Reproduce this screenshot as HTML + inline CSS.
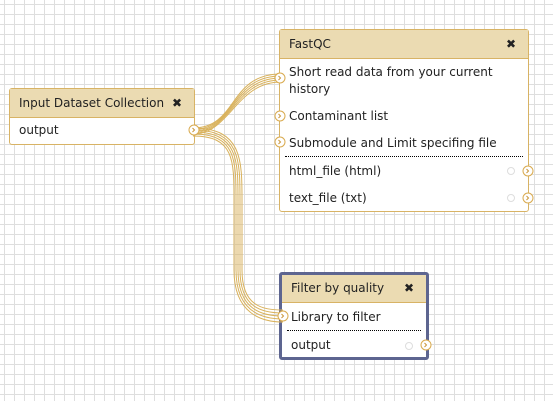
<!DOCTYPE html>
<html><head><style>
body{margin:0;width:553px;height:401px;overflow:hidden;background:#fff;
background-image:linear-gradient(#dedede 1px,transparent 1px),linear-gradient(90deg,#dedede 1px,transparent 1px);
background-size:10px 10px;background-position:4px 4px;font-family:"DejaVu Sans","Liberation Sans",sans-serif;font-size:12px;color:#222;position:relative}
.node{position:absolute;background:#fff;border:1px solid #d8b365;border-radius:3px;box-sizing:border-box}
.hd{background:#ebdbb2;border-bottom:1px solid #d8b365;height:28px;line-height:28px;padding-left:9px;position:relative}
.x{position:absolute;right:12px;top:0;font-weight:bold;font-size:12px}
.row{position:absolute;left:9px;white-space:nowrap}
.dot{position:absolute;left:5px;right:5px;border-top:1px dotted #000}
svg{position:absolute;left:0;top:0}
</style></head><body>
<div class="node" style="left:9px;top:88px;width:186px;height:57px">
 <div class="hd">Input Dataset Collection<span class="x" style="right:12px">✖</span></div>
 <div class="row" style="top:34px">output</div>
</div>
<div class="node" style="left:279px;top:29px;width:250px;height:183px">
 <div class="hd">FastQC<span class="x">✖</span></div>
 <div class="row" style="top:34px;line-height:17px">Short read data from your current<br>history</div>
 <div class="row" style="top:79px">Contaminant list</div>
 <div class="row" style="top:106px">Submodule and Limit specifing file</div>
 <div class="dot" style="top:126px"></div>
 <div class="row" style="top:134px">html_file (html)</div>
 <div class="row" style="top:161px">text_file (txt)</div>
</div>
<div class="node" style="left:279px;top:272px;width:150px;height:88px;border:3px solid #5d6590">
 <div class="hd" style="height:27px;line-height:27px">Filter by quality<span class="x">✖</span></div>
 <div class="row" style="top:35px">Library to filter</div>
 <div class="dot" style="top:55px"></div>
 <div class="row" style="top:63px">output</div>
</div>
<svg width="553" height="401">
<g fill="none" stroke="#d9b25c" stroke-width="1">
 <path d="M193,128 C238,128 228,74 281,74"/><path d="M193,129.5 C236,129.5 230,76 281,76"/><path d="M193,131 C234,131 232,78 281,78"/><path d="M193,132.5 C232,132.5 234,80 281,80"/><path d="M193,134 C230,134 236,82 281,82"/>
 <path d="M193,128 C242,128 242,160 242,200 L242,270 C242,306 262,310 283,310"/>
 <path d="M193,130 C240,130 240,160 240,200 L240,270 C240,308 262,313 283,313"/>
 <path d="M193,132 C238,132 238,160 238,200 L238,270 C238,310 262,316 283,316"/>
 <path d="M193,134 C236,134 236,160 236,200 L236,270 C236,312 262,319 283,319"/>
 <path d="M193,136 C234,136 234,160 234,200 L234,270 C234,314 262,322 283,322"/>
</g>
<g fill="#fff" stroke="#d9aa4e" stroke-width="1">
 <circle cx="194" cy="130" r="5"/><circle cx="280" cy="78" r="5"/><circle cx="280" cy="116" r="5"/><circle cx="280" cy="142" r="5"/>
 <circle cx="528" cy="171" r="5"/><circle cx="528" cy="198" r="5"/><circle cx="283" cy="316" r="5"/><circle cx="426" cy="345" r="5"/>
</g>
<g fill="none" stroke="#c9963a" stroke-width="1">
 <path d="M192.5,128 l2,2 l-2,2"/><path d="M278.5,76 l2,2 l-2,2"/><path d="M278.5,114 l2,2 l-2,2"/><path d="M278.5,140 l2,2 l-2,2"/>
 <path d="M526.5,169 l2,2 l-2,2"/><path d="M526.5,196 l2,2 l-2,2"/><path d="M281.5,314 l2,2 l-2,2"/><path d="M424.5,343 l2,2 l-2,2"/>
</g>
<g fill="none" stroke="#ddd" stroke-width="1">
 <circle cx="511" cy="171" r="3.5"/><circle cx="511" cy="198" r="3.5"/><circle cx="409" cy="346" r="3.5"/>
</g>
</svg>
</body></html>
